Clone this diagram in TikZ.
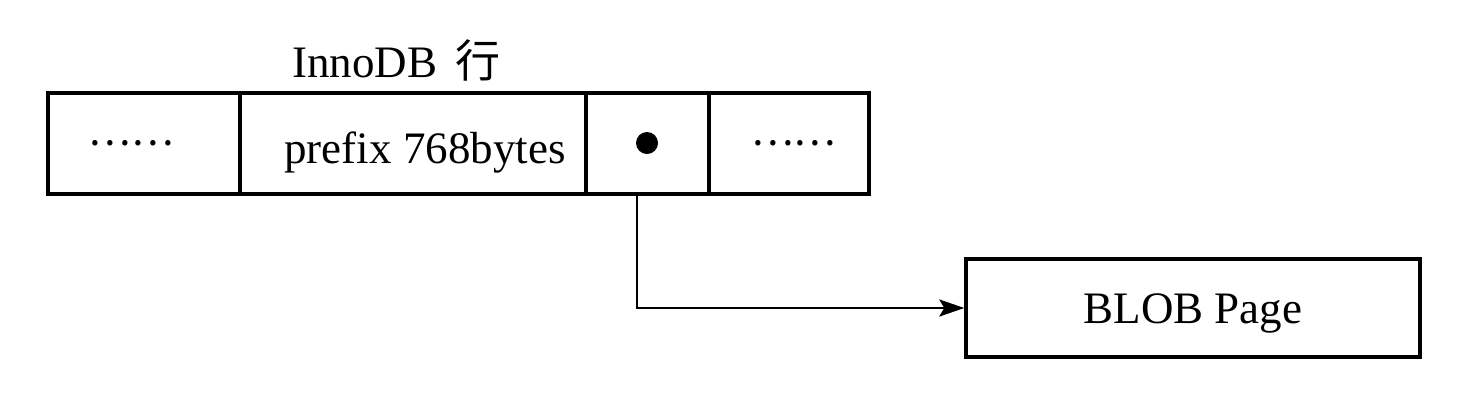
\documentclass[tikz,border=0pt]{standalone}
\usepackage{fontspec}
\setmainfont{Liberation Serif}
\newfontfamily\cjk{Noto Sans CJK SC}
\usetikzlibrary{arrows.meta}
\begin{document}
\begin{tikzpicture}[x=0.5pt,y=-0.5pt,
  every node/.style={font=\fontsize{22.5pt}{26pt}\selectfont, inner sep=0pt},
  cell/.style={draw, line width=1.7pt, minimum height=50.5pt},
  dotsfont/.style={font=\cjk\fontsize{20pt}{24pt}\selectfont},
  blobbox/.style={draw, line width=1.7pt, minimum width=227pt, minimum height=49pt},
  ptr/.style={fill=black, circle, minimum size=11pt, inner sep=0pt},
  link/.style={line width=1.4pt, -{Stealth[length=12.5pt,width=8.5pt,inset=2.5pt]}}]
\useasboundingbox (0,0) rectangle (1476,404);
\node[cell, dotsfont, minimum width=96pt]   (c1) at (144,143.5) {……\hspace*{13pt}};
\node[cell, minimum width=173pt, text height=22pt, text depth=2.5pt] (c2) at (413,143.5) {\hspace*{12pt}prefix 768bytes};
\node[cell, minimum width=61.5pt] (c3) at (647.5,143.5) {};
\node[cell, dotsfont, minimum width=80pt]   (c4) at (789,143.5) {\hspace*{4.5pt}……};
\node[ptr] (dot) at (647,143) {};
\node[anchor=base west] (title) at (292,77) {InnoDB\hspace{0.4em}{\cjk 行}};
\node[blobbox, text height=15pt, text depth=0pt] (blob) at (1193,308) {BLOB Page};
\coordinate (out) at (637,194);
\draw[link] (out) |- (blob.west);
\end{tikzpicture}
\end{document}
